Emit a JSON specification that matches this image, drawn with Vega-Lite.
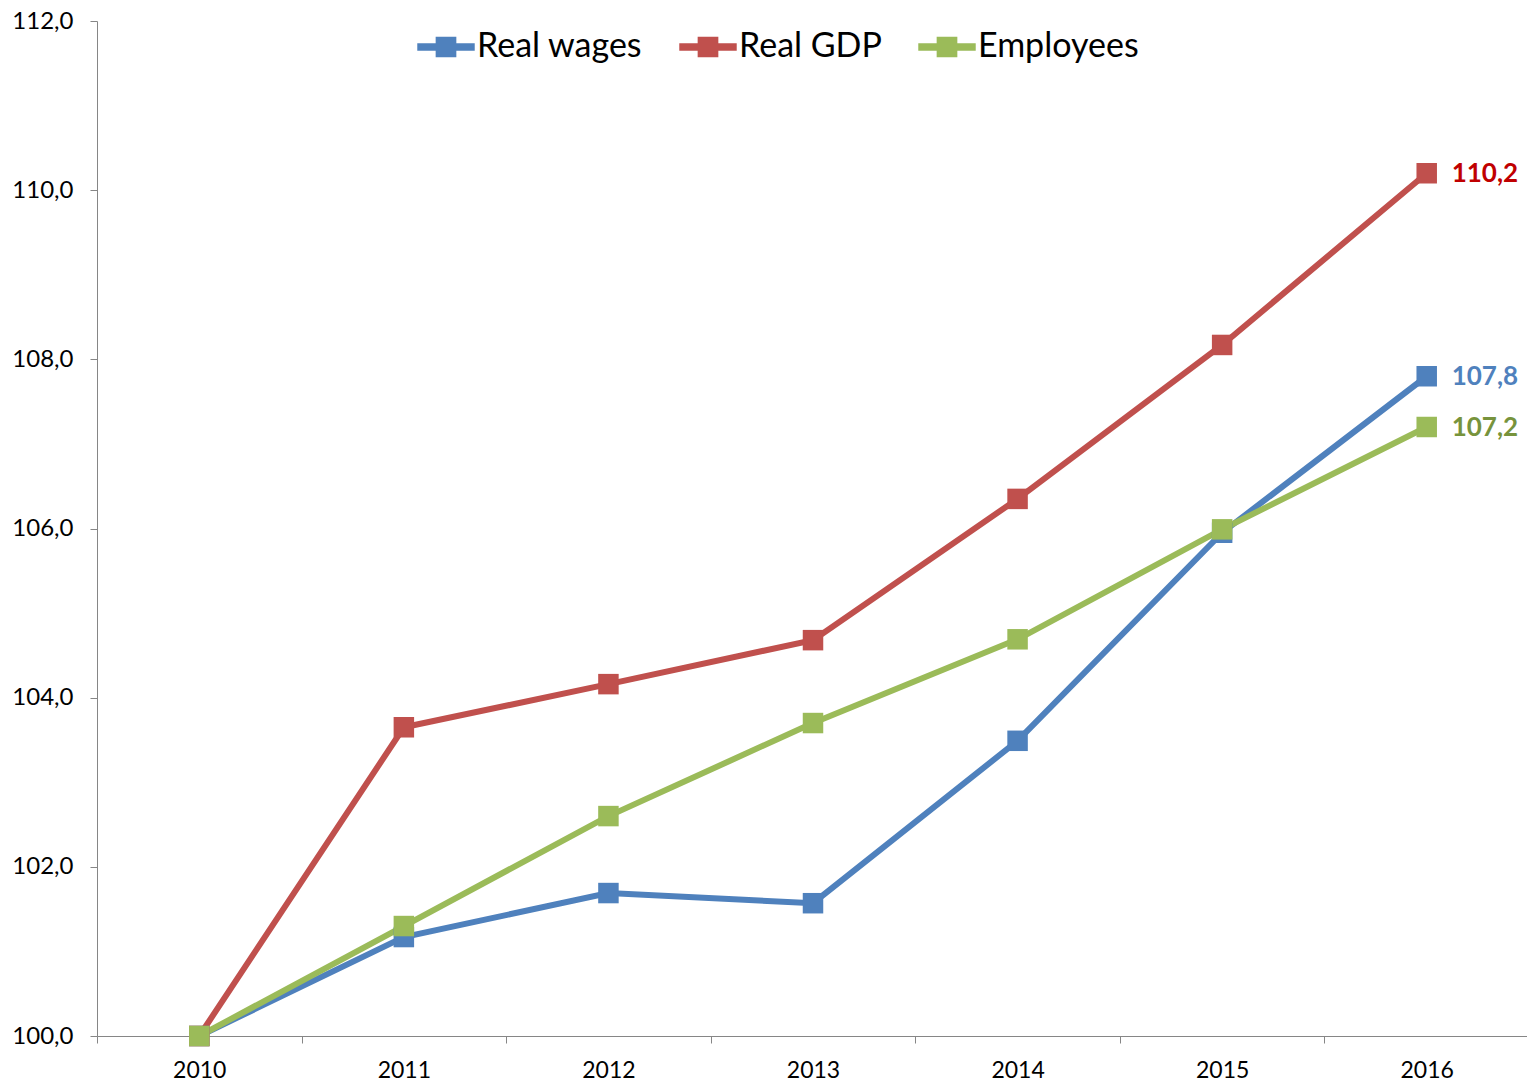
{
  "$schema": "https://vega.github.io/schema/vega-lite/v6.json",
  "width": 1432,
  "height": 1015,
  "autosize": "none",
  "padding": {"left": 97, "top": 21, "right": 0, "bottom": 48},
  "background": "white",
  "config": {
    "font": "Lato",
    "view": {"stroke": null},
    "locale": {"number": {"decimal": ",", "thousands": ".", "grouping": [3], "currency": ["", "€"]}}
  },
  "data": {
    "values": [
      {"year": "2010", "series": "Real wages", "value": 100.0},
      {"year": "2011", "series": "Real wages", "value": 101.17},
      {"year": "2012", "series": "Real wages", "value": 101.69},
      {"year": "2013", "series": "Real wages", "value": 101.57},
      {"year": "2014", "series": "Real wages", "value": 103.49},
      {"year": "2015", "series": "Real wages", "value": 105.95},
      {"year": "2016", "series": "Real wages", "value": 107.8, "label": 107.8},
      {"year": "2010", "series": "Real GDP", "value": 100.0},
      {"year": "2011", "series": "Real GDP", "value": 103.65},
      {"year": "2012", "series": "Real GDP", "value": 104.16},
      {"year": "2013", "series": "Real GDP", "value": 104.68},
      {"year": "2014", "series": "Real GDP", "value": 106.35},
      {"year": "2015", "series": "Real GDP", "value": 108.17},
      {"year": "2016", "series": "Real GDP", "value": 110.2, "label": 110.2},
      {"year": "2010", "series": "Employees", "value": 100.0},
      {"year": "2011", "series": "Employees", "value": 101.3},
      {"year": "2012", "series": "Employees", "value": 102.6},
      {"year": "2013", "series": "Employees", "value": 103.7},
      {"year": "2014", "series": "Employees", "value": 104.69},
      {"year": "2015", "series": "Employees", "value": 105.99},
      {"year": "2016", "series": "Employees", "value": 107.2, "label": 107.2}
    ]
  },
  "encoding": {
    "x": {
      "field": "year", "type": "ordinal", "bandPosition": 0.5,
      "scale": {"type": "band", "paddingInner": 0, "paddingOuter": 0},
      "axis": {
        "title": null, "labelAngle": 0, "tickBand": "extent", "orient": "bottom",
        "domainColor": "#868686", "tickColor": "#868686", "tickSize": 7,
        "labelFontSize": 23, "labelColor": "#000000", "labelPadding": 16,
        "grid": false
      }
    },
    "y": {
      "field": "value", "type": "quantitative",
      "scale": {"domain": [100, 112], "zero": false, "nice": false},
      "axis": {
        "title": null, "values": [100, 102, 104, 106, 108, 110, 112], "format": ".1f",
        "domainColor": "#868686", "tickColor": "#868686", "tickSize": 7,
        "labelFontSize": 24, "labelColor": "#000000", "labelPadding": 17,
        "grid": false
      }
    }
  },
  "layer": [
    {
      "mark": {"type": "line", "strokeWidth": 6},
      "encoding": {
        "color": {
          "field": "series", "type": "nominal",
          "scale": {"domain": ["Real wages", "Real GDP", "Employees"], "range": ["#4F81BD", "#C0504D", "#9BBB59"]},
          "legend": {
            "title": null, "orient": "none", "direction": "horizontal",
            "legendX": 320, "legendY": -3,
            "labelFontSize": 34, "labelColor": "#000000", "labelOffset": 2, "labelLimit": 0,
            "symbolType": "M-1,-0.13H1V0.13H-1Z M-0.36,-0.36H0.36V0.36H-0.36Z",
            "symbolSize": 3300, "symbolStrokeWidth": 0, "columnPadding": 36,
            "encode": {"symbols": {"update": {"fill": {"scale": "color", "field": "value"}, "fillOpacity": {"value": 1}, "strokeWidth": {"value": 0}}}}
          }
        }
      }
    },
    {
      "mark": {"type": "point", "shape": "square", "filled": true, "size": 420, "opacity": 1},
      "encoding": {
        "color": {"field": "series", "type": "nominal"}
      }
    },
    {
      "transform": [{"filter": "datum.label != null"}],
      "mark": {"type": "text", "align": "left", "baseline": "middle", "dx": 25, "dy": 1, "fontSize": 26, "fontWeight": "bold"},
      "encoding": {
        "text": {"field": "label", "type": "quantitative", "format": ".1f"},
        "fill": {
          "field": "series", "type": "nominal",
          "scale": {"domain": ["Real wages", "Real GDP", "Employees"], "range": ["#4F81BD", "#C00000", "#77933C"]},
          "legend": null
        }
      }
    }
  ]
}
